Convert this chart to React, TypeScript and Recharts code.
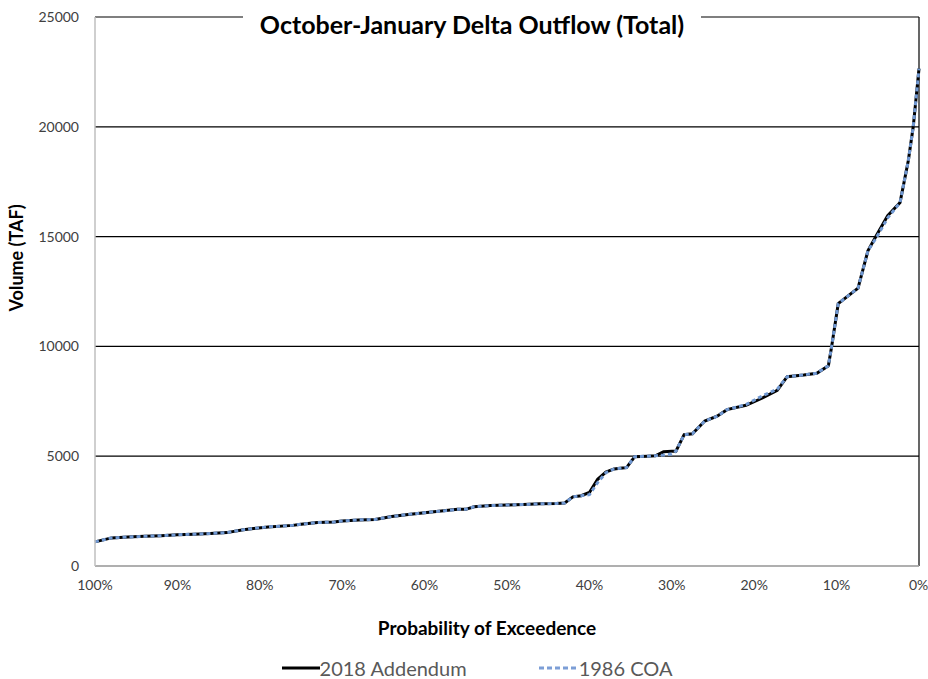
import React from 'react';
import { LineChart, Line, XAxis, YAxis, CartesianGrid, ReferenceLine, Legend } from 'recharts';

// Probability of exceedence (%) and volume (TAF)
const probability = [
  100, 98, 96, 94, 92, 90, 88, 86, 84, 82, 81, 79, 76, 75, 73, 71, 70, 68, 66, 64,
  62, 60, 58, 56, 55, 54, 52, 50, 48, 46, 44, 43, 42, 41, 40, 39, 38, 37, 36, 35.5,
  34.5, 33, 32, 31, 30, 29.5, 28.5, 27.5, 26, 24.5, 23.3, 21, 19, 17.2, 16, 14, 12.4,
  11, 10.6, 9.8, 7.4, 6.2, 5.1, 3.8, 2.3, 1.3, 0.7, 0,
];
const addendum2018 = [
  1100, 1280, 1320, 1350, 1380, 1420, 1450, 1480, 1520, 1650, 1700, 1780, 1850, 1900, 1980, 2000, 2050, 2100, 2120, 2250,
  2350, 2430, 2500, 2580, 2580, 2700, 2750, 2780, 2800, 2830, 2850, 2870, 3150, 3200, 3350, 3950, 4280, 4420, 4460, 4480,
  4980, 5000, 5020, 5200, 5230, 5230, 5980, 6020, 6600, 6820, 7120, 7320, 7650, 8000, 8620, 8700, 8780,
  9120, 10000, 11950, 12650, 14350, 15100, 15950, 16550, 18450, 20000, 22650,
];
const coa1986 = [
  1100, 1280, 1320, 1350, 1380, 1420, 1450, 1480, 1520, 1650, 1700, 1780, 1850, 1900, 1980, 2000, 2050, 2100, 2120, 2250,
  2350, 2430, 2500, 2580, 2580, 2700, 2750, 2780, 2800, 2830, 2850, 2870, 3150, 3200, 3250, 3800, 4250, 4420, 4460, 4480,
  4980, 5000, 5020, 5050, 5100, 5230, 5980, 6020, 6600, 6820, 7120, 7350, 7750, 8050, 8620, 8700, 8780,
  9120, 10000, 11950, 12650, 14350, 15000, 15850, 16550, 18450, 20000, 22650,
];
const xTicks = [100, 90, 80, 70, 60, 50, 40, 30, 20, 10, 0];
const yTicks = [0, 5000, 10000, 15000, 20000, 25000];

const data = probability.map((p, i) => ({ p, addendum: addendum2018[i], coa: coa1986[i] }));

const FONT = 'Lato, "Open Sans", sans-serif';

const ChartLegend = () => (
  <div style={{ display: 'flex', justifyContent: 'center', gap: 72, fontFamily: FONT, fontSize: 20, color: '#595959', height: 30, marginTop: 6, alignItems: 'center' }}>
    <div style={{ display: 'flex', alignItems: 'center' }}>
      <svg width={38} height={10}><line x1={0} y1={5} x2={38} y2={5} stroke="#000" strokeWidth={3} /></svg>
      <span>2018 Addendum</span>
    </div>
    <div style={{ display: 'flex', alignItems: 'center' }}>
      <svg width={40} height={10}><line x1={0} y1={5} x2={40} y2={5} stroke="#7c9ed6" strokeWidth={3} strokeDasharray="5 3" /></svg>
      <span>1986 COA</span>
    </div>
  </div>
);

const App: React.FC = () => {
  return (
    <div style={{ position: 'relative', width: 928, height: 679, background: '#fff' }}>
      <style>{'body{margin:0}'}</style>
      <LineChart width={928} height={679} data={data} margin={{ top: 17, right: 9, left: 35, bottom: 0 }}>
        <CartesianGrid horizontal vertical={false} stroke="#000" strokeWidth={1.2} />
        <XAxis
          type="number"
          dataKey="p"
          domain={[0, 100]}
          reversed
          ticks={xTicks}
          tickFormatter={(v: number) => `${v}%`}
          tick={{ fill: '#404040', fontSize: 14, fontFamily: FONT }}
          tickLine={false}
          axisLine={{ stroke: '#bfbfbf', strokeWidth: 1.5 }}
          height={81}
          tickMargin={8}
          label={{ value: 'Probability of Exceedence', position: 'insideBottom', offset: 12, dx: -20, fill: '#000', fontSize: 19, fontWeight: 'bold', fontFamily: FONT }}
        />
        <YAxis
          type="number"
          domain={[0, 25000]}
          ticks={yTicks}
          tick={{ fill: '#404040', fontSize: 14, fontFamily: FONT }}
          tickLine={false}
          axisLine={{ stroke: '#bfbfbf', strokeWidth: 1.5 }}
          width={60}
          tickMargin={10}
          label={{ value: 'Volume (TAF)', angle: -90, position: 'insideLeft', offset: -18, dy: 20, fill: '#000', fontSize: 18, fontWeight: 'bold', fontFamily: FONT }}
        />
        <ReferenceLine x={0} stroke="#000" strokeWidth={1.2} />
        <Legend verticalAlign="bottom" height={32} content={<ChartLegend />} />
        <Line type="linear" dataKey="addendum" name="2018 Addendum" stroke="#000" strokeWidth={3} dot={false} isAnimationActive={false} />
        <Line type="linear" dataKey="coa" name="1986 COA" stroke="#7098d2" strokeWidth={3} strokeDasharray="4 3" dot={false} isAnimationActive={false} />
      </LineChart>
      <div
        style={{
          position: 'absolute', top: 8, left: 243, width: 458, textAlign: 'center', background: '#fff',
          fontFamily: FONT, fontWeight: 'bold', fontSize: 25, color: '#000', lineHeight: '32px',
        }}
      >
        October-January Delta Outflow (Total)
      </div>
    </div>
  );
};

export default App;
